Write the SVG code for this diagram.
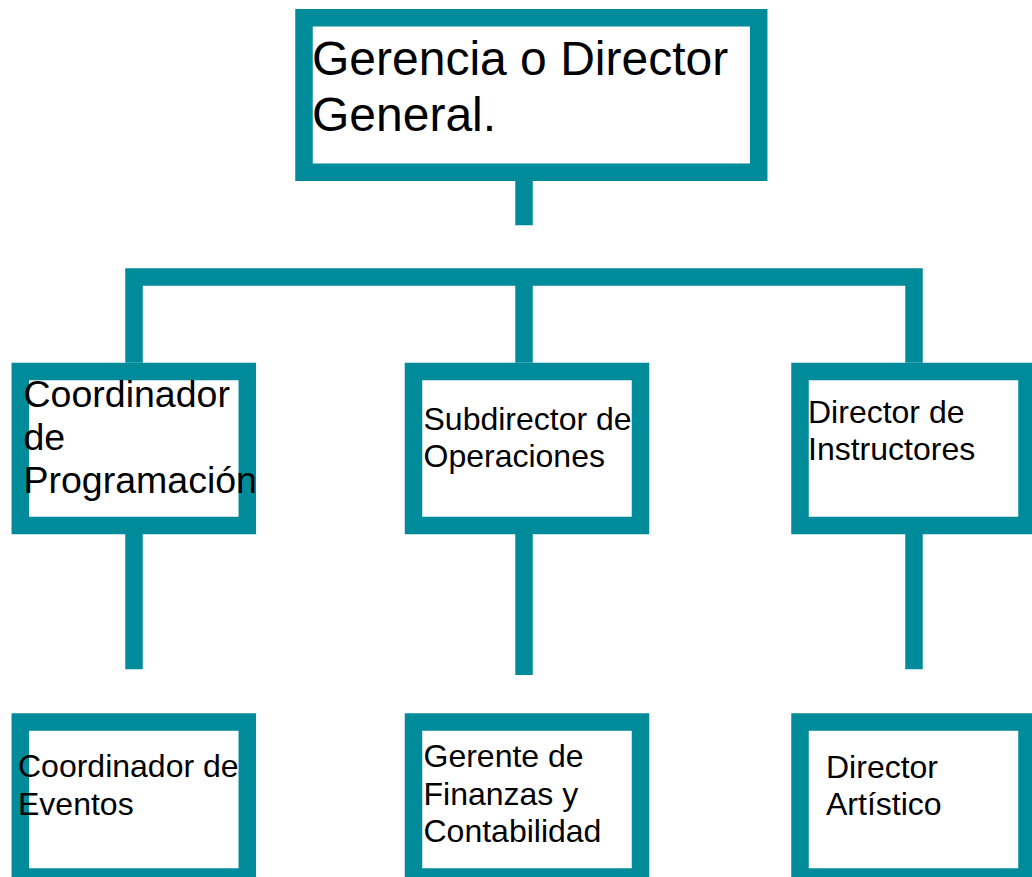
<svg xmlns="http://www.w3.org/2000/svg" width="1032" height="877" viewBox="0 0 1032 877">
<style>
.box{fill:#ffffff;stroke:#008B9A;stroke-width:17.5}
.ln{fill:none;stroke:#008B9A;stroke-width:17.5;stroke-linecap:butt;stroke-linejoin:miter}
text{font-family:"Liberation Sans",Arial,sans-serif;fill:#000000}
.big{font-size:48px}
.mid{font-size:37.5px}
.sm{font-size:32px}
</style>
<rect width="1032" height="877" fill="#ffffff"/>
<g id="connectors">
<path class="ln" d="M524,172 V225.3"/>
<path class="ln" d="M134,362.7 V277 H914 V362.7"/>
<path class="ln" d="M524,277 V362.7"/>
<path class="ln" d="M134,534 V669.3"/>
<path class="ln" d="M524,534 V675"/>
<path class="ln" d="M914,534 V669.3"/>
</g>
<g id="n-gerencia">
<rect class="box" x="304" y="17.75" width="454.7" height="154.5"/>
<text class="big" x="312" y="75">Gerencia o Director</text>
<text class="big" x="312" y="130.7">General.</text>
</g>
<g id="n-coord-prog">
<rect class="box" x="20.3" y="371.5" width="227" height="154"/>
<text class="mid" x="23.5" y="406.7">Coordinador</text>
<text class="mid" x="23.5" y="450">de</text>
<text class="mid" x="23.5" y="493.3">Programación</text>
</g>
<g id="n-subdirector">
<rect class="box" x="413.5" y="371.5" width="227" height="154"/>
<text class="sm" x="423.5" y="430">Subdirector de</text>
<text class="sm" x="423.5" y="466.7">Operaciones</text>
</g>
<g id="n-dir-instructores">
<rect class="box" x="800" y="371.5" width="227" height="154"/>
<text class="sm" x="808" y="423.3">Director de</text>
<text class="sm" x="808" y="460">Instructores</text>
</g>
<g id="n-coord-eventos">
<rect class="box" x="20.3" y="722" width="227" height="155"/>
<text class="sm" x="18" y="777.3">Coordinador de</text>
<text class="sm" x="18" y="815">Eventos</text>
</g>
<g id="n-finanzas">
<rect class="box" x="413.5" y="722" width="227" height="155"/>
<text class="sm" x="423.5" y="766.7">Gerente de</text>
<text class="sm" x="423.5" y="805">Finanzas y</text>
<text class="sm" x="423.5" y="841.7">Contabilidad</text>
</g>
<g id="n-artistico">
<rect class="box" x="800" y="722" width="227" height="155"/>
<text class="sm" x="826" y="777.7">Director</text>
<text class="sm" x="826" y="815">Artístico</text>
</g>
</svg>
